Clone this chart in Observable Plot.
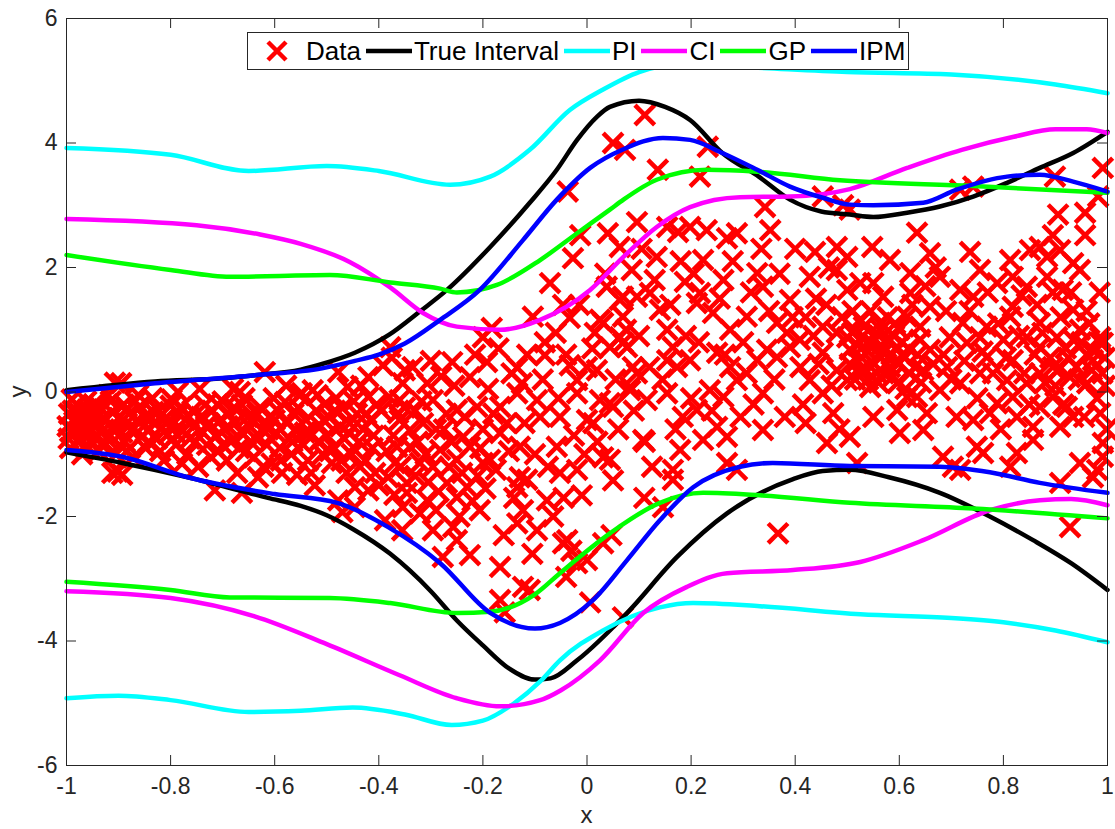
<!DOCTYPE html>
<html>
<head>
<meta charset="utf-8">
<script src="https://cdn.jsdelivr.net/npm/d3@7"></script>
<script src="https://cdn.jsdelivr.net/npm/@observablehq/plot@0.6"></script>
<style>
  html, body { margin: 0; padding: 0; background: #fff; }
  #chart { position: relative; width: 1115px; height: 829px; font-family: "Liberation Sans", Arial, Helvetica, sans-serif; }
  #legend {
    position: absolute; left: 247px; top: 32px; height: 38px;
    box-sizing: border-box; border: 1px solid #262626; background: #fff;
    display: flex; align-items: center; padding: 0 3px 0 6px;
    font-size: 26px; color: #000; white-space: nowrap;
  }
  #legend .item { display: flex; align-items: center; margin-right: 5px; }
  #legend .item:last-child { margin-right: 0; }
  #legend svg { display: block; margin-right: 2px; }
</style>
</head>
<body>
<div id="chart"></div>
<script>
// Axis ticks
const xTicks = [-1, -0.8, -0.6, -0.4, -0.2, 0, 0.2, 0.4, 0.6, 0.8, 1];
const yTicks = [-6, -4, -2, 0, 2, 4, 6];

// Observed samples [x, y]
const dataPoints = [
  // x in [-1, -0.9]
  [-0.995,-0.35],[-0.99,-0.62],[-0.985,-0.48],[-0.98,-0.2],[-0.978,-0.8],[-0.972,-0.55],[-0.968,-0.42],[-0.965,-0.7],
  [-0.96,-0.28],[-0.957,-0.9],[-0.952,-0.5],[-0.95,-0.62],[-0.996,-0.75],[-0.99,-0.12],[-0.975,-0.35],[-0.962,-0.15],
  [-0.946,-0.38],[-0.943,-0.72],[-0.94,-0.5],[-0.935,-0.25],[-0.932,-0.85],[-0.928,-0.6],[-0.925,-0.45],[-0.92,-0.05],
  [-0.917,-0.7],[-0.913,-0.32],[-0.91,-0.55],[-0.907,0.15],[-0.905,-1.0],[-0.902,-1.28],[-0.9,-0.42],[-0.895,0.14],
  [-0.893,-0.65],[-0.89,-0.2],[-0.912,-1.3],[-0.893,-1.33],
  [-0.998,-0.55],[-0.993,-0.9],[-0.988,-0.3],[-0.982,-0.65],[-0.976,-0.45],[-0.97,-1.0],[-0.966,-0.6],[-0.958,-0.38],
  [-0.954,-0.78],[-0.948,-0.2],[-0.938,-0.95],[-0.93,-0.42],[-0.922,-0.75],[-0.915,-0.15],[-0.908,-0.62],
  // x in [-0.9, -0.8]
  [-0.888,-0.8],[-0.884,-0.5],[-0.88,-0.35],[-0.876,-0.62],[-0.872,-1.05],[-0.868,-0.15],[-0.864,-0.45],[-0.86,-0.25],
  [-0.856,-0.72],[-0.852,-0.55],[-0.848,-0.9],[-0.844,-0.38],[-0.84,-0.6],[-0.835,-0.1],[-0.83,-0.48],[-0.826,-0.75],
  [-0.822,-0.3],[-0.818,-0.58],[-0.813,-1.1],[-0.81,-0.42],[-0.805,-0.68],[-0.8,-0.22],[-0.86,-0.24],
  [-0.898,-0.85],[-0.885,-0.28],[-0.878,-0.9],[-0.87,-0.58],[-0.862,-0.05],[-0.85,-0.4],[-0.842,-0.8],[-0.833,-0.32],
  [-0.82,-0.95],[-0.808,-0.5],
  // x in [-0.8, -0.7]
  [-0.796,-0.52],[-0.79,-0.85],[-0.786,0.0],[-0.783,-0.35],[-0.78,-0.24],[-0.776,-0.62],[-0.772,-0.45],[-0.768,-1.0],
  [-0.763,-0.75],[-0.758,-0.3],[-0.755,-0.55],[-0.747,-1.2],[-0.742,-0.4],[-0.738,-0.65],[-0.734,-0.21],[-0.73,-0.85],
  [-0.726,-0.5],[-0.72,-0.3],[-0.715,-1.58],[-0.712,-0.7],[-0.708,-0.95],[-0.704,-0.45],[-0.7,-0.15],
  [-0.798,-0.12],[-0.788,-0.68],[-0.778,-1.15],[-0.765,-0.4],[-0.752,-0.8],[-0.744,0.05],[-0.732,-0.55],[-0.722,-1.05],
  [-0.71,-0.2],
  // x in [-0.7, -0.6]
  [-0.696,-0.6],[-0.692,-1.1],[-0.688,-0.35],[-0.684,-0.8],[-0.68,0.05],[-0.676,-0.5],[-0.672,-1.3],[-0.667,0.0],
  [-0.663,-0.21],[-0.663,-1.62],[-0.66,-0.68],[-0.655,-0.95],[-0.652,-0.4],[-0.648,-0.55],[-0.644,-0.45],[-0.64,-1.05],
  [-0.636,-0.75],[-0.632,-1.37],[-0.628,-0.25],[-0.624,-0.6],[-0.619,0.32],[-0.615,-0.85],[-0.61,-0.4],[-0.606,-1.15],
  [-0.602,-0.1],[-0.7,-0.85],[-0.69,-0.55],[-0.678,-0.25],[-0.668,-0.9],[-0.658,-0.1],[-0.646,-0.8],[-0.634,-0.35],
  [-0.622,-1.2],[-0.612,-0.6],
  // x in [-0.6, -0.5]
  [-0.598,-0.65],[-0.594,-0.3],[-0.59,-0.9],[-0.586,-1.3],[-0.58,-0.16],[-0.576,-0.5],[-0.572,-0.75],[-0.568,-1.0],
  [-0.564,-0.35],[-0.56,-0.6],[-0.557,-1.33],[-0.553,-0.05],[-0.548,-0.02],[-0.545,-0.85],[-0.54,-0.45],[-0.536,-1.1],
  [-0.532,-0.65],[-0.527,0.03],[-0.523,-1.5],[-0.52,-0.3],[-0.516,-0.8],[-0.512,-0.55],[-0.508,-1.0],[-0.504,-0.2],
  [-0.6,-0.45],[-0.588,-1.1],[-0.578,0.1],[-0.566,-0.8],[-0.555,-0.25],[-0.542,-0.65],[-0.53,-1.3],[-0.518,-0.05],
  [-0.506,-0.45],
  // x in [-0.5, -0.4]
  [-0.5,-0.7],[-0.496,-0.4],[-0.49,-1.14],[-0.486,-0.9],[-0.482,-0.1],[-0.478,0.32],[-0.478,-1.74],[-0.474,-0.55],
  [-0.47,-0.26],[-0.47,-1.93],[-0.466,-0.75],[-0.462,-1.3],[-0.46,0.08],[-0.456,-0.5],[-0.452,-1.0],[-0.446,-1.53],
  [-0.446,-1.85],[-0.442,-0.35],[-0.438,-0.8],[-0.434,0.1],[-0.43,-0.6],[-0.426,-1.1],[-0.42,0.24],[-0.42,-0.08],
  [-0.42,-1.58],[-0.416,-0.45],[-0.412,-0.9],[-0.407,-1.3],[-0.404,-0.2],
  [-0.494,-0.95],[-0.484,-0.3],[-0.472,-1.1],[-0.458,-0.65],[-0.448,-0.15],[-0.436,-1.2],[-0.424,-0.35],[-0.41,-0.7],
  // x in [-0.4, -0.3]
  [-0.392,0.43],[-0.388,-2.06],[-0.382,-1.37],[-0.38,-0.08],[-0.378,0.72],[-0.375,0.55],[-0.372,-0.7],[-0.369,-1.14],
  [-0.365,-0.88],[-0.363,-0.34],[-0.36,-0.13],[-0.36,-0.45],[-0.355,-2.22],[-0.354,0.14],[-0.354,-1.85],[-0.346,-1.46],
  [-0.346,-1.62],[-0.34,-0.61],[-0.34,-0.88],[-0.35,0.35],[-0.33,-0.3],[-0.33,-1.35],[-0.321,-1.14],[-0.321,-1.95],
  [-0.315,-0.5],[-0.31,-1.0],[-0.307,0.14],[-0.307,-1.74],
  [-0.4,-1.5],[-0.395,-0.3],[-0.385,-0.95],[-0.37,-1.65],[-0.358,-1.2],[-0.35,-0.25],[-0.335,0.4],[-0.325,-0.8],
  [-0.318,-0.15],[-0.305,-1.45],
  // x in [-0.3, -0.2]
  [-0.296,-0.13],[-0.296,-1.2],[-0.296,-2.22],[-0.29,-0.6],[-0.285,-1.6],[-0.282,-0.93],[-0.277,-2.65],[-0.27,-0.35],
  [-0.269,-1.46],[-0.26,-0.8],[-0.259,0.48],[-0.257,-2.17],[-0.25,-0.29],[-0.25,-1.09],[-0.25,-1.69],[-0.25,-2.38],
  [-0.24,-1.3],[-0.238,-0.72],[-0.23,-1.53],[-0.225,0.24],[-0.225,-0.88],[-0.225,-2.62],[-0.211,-0.24],[-0.21,-1.35],
  [-0.206,-1.9],[-0.2,0.88],[-0.2,-1.14],[-0.2,-0.6],
  [-0.3,0.5],[-0.29,-1.9],[-0.28,0.25],[-0.275,-0.6],[-0.265,-1.2],[-0.255,0.1],[-0.245,-2.0],[-0.235,-0.4],
  [-0.22,-1.75],[-0.215,0.6],[-0.205,-0.9],
  // x in [-0.2, -0.1]
  [-0.192,0.48],[-0.186,-1.09],[-0.183,1.03],[-0.18,-0.35],[-0.167,-0.24],[-0.167,-0.66],[-0.167,-2.81],[-0.167,-3.34],
  [-0.158,-3.54],[-0.154,-0.5],[-0.134,0.39],[-0.134,-0.02],[-0.134,-1.53],[-0.134,-2.11],[-0.129,-0.88],[-0.129,-1.37],
  [-0.125,0.14],[-0.123,-1.9],[-0.123,-3.13],[-0.115,-1.41],[-0.11,-3.18],[-0.104,1.21],
  [-0.195,-1.55],[-0.19,0.05],[-0.175,-1.25],[-0.17,0.7],[-0.16,-2.3],[-0.15,-0.95],[-0.145,0.3],[-0.14,-1.7],
  [-0.12,-0.5],[-0.115,0.6],[-0.105,-2.6],
  // x in [-0.1, 0]
  [-0.096,-0.13],[-0.096,-2.22],[-0.09,-0.4],[-0.081,0.8],[-0.081,0.59],[-0.077,-1.74],[-0.071,1.75],[-0.058,-0.88],
  [-0.052,-0.4],[-0.052,-1.3],[-0.046,1.4],[-0.046,-2.43],[-0.04,-2.97],[-0.038,-2.38],[-0.037,3.22],[-0.033,1.19],
  [-0.033,0.43],[-0.03,-2.55],[-0.027,2.15],[-0.019,0.19],[-0.019,-0.02],[-0.019,-1.25],[-0.019,-2.75],[-0.013,2.52],
  [-0.01,-1.66],[-0.1,-1.0],[-0.085,0.2],[-0.075,-1.2],[-0.065,-2.0],[-0.06,0.95],[-0.055,-0.1],[-0.045,-1.7],
  [-0.04,0.6],[-0.025,-0.7],[-0.015,1.4],[-0.005,-1.0],
  // x in [0, 0.1]
  [0.0,0.4],[0.0,-0.45],[0.0,-2.7],[0.006,-3.38],[0.012,-0.5],[0.015,0.95],[0.019,0.35],[0.025,1.16],[0.025,-0.13],
  [0.031,1.11],[0.031,-1.05],[0.031,-2.43],[0.038,1.69],[0.04,2.55],[0.044,-0.18],[0.044,-1.09],[0.044,0.72],
  [0.047,-2.3],[0.05,4.0],[0.05,-0.24],[0.05,-1.42],[0.063,1.48],[0.063,0.88],[0.063,2.33],[0.069,1.21],[0.069,1.53],
  [0.069,0.79],[0.069,-3.62],[0.073,3.89],[0.077,0.72],[0.083,0.03],[0.083,0.08],[0.086,1.96],[0.088,0.4],
  [0.096,1.53],[0.096,0.3],[0.096,2.73],
  [0.01,0.7],[0.02,-0.8],[0.035,1.9],[0.055,0.2],[0.06,-0.6],[0.075,1.0],[0.09,-0.3],[0.1,0.9],
  // x in [0.1, 0.2]
  [0.108,-0.77],[0.11,-1.7],[0.111,4.45],[0.111,-0.8],[0.115,-0.13],[0.121,1.59],[0.134,2.17],[0.136,3.57],
  [0.14,1.32],[0.146,-1.85],[0.154,1.0],[0.154,0.51],[0.154,-0.02],[0.154,2.65],[0.165,0.72],[0.165,-1.25],
  [0.165,-1.41],[0.173,0.4],[0.175,2.57],[0.179,-0.93],[0.184,-0.4],[0.188,1.77],[0.198,2.65],[0.198,0.51],
  [0.105,2.3],[0.12,0.4],[0.125,-1.2],[0.13,1.8],[0.145,0.2],[0.16,1.4],[0.17,-0.6],[0.18,2.1],[0.19,0.9],
  // x in [0.2, 0.3]
  [0.211,1.43],[0.211,-0.29],[0.217,3.46],[0.217,1.59],[0.223,2.12],[0.223,-0.77],[0.232,3.94],[0.236,0.03],
  [0.242,1.27],[0.25,0.63],[0.25,-0.56],[0.262,1.8],[0.262,-0.08],[0.269,2.47],[0.269,-0.72],[0.269,-1.14],
  [0.275,1.0],[0.275,0.4],[0.288,2.55],[0.288,0.19],[0.288,-1.25],
  [0.2,-0.1],[0.205,1.9],[0.215,0.8],[0.23,2.6],[0.24,-0.3],[0.255,1.5],[0.265,0.6],[0.28,2.1],[0.295,-0.4],
  // x in [0.3, 0.4]
  [0.307,1.21],[0.307,0.3],[0.327,1.91],[0.327,0.51],[0.338,1.69],[0.338,-0.02],[0.338,-0.61],[0.342,2.97],
  [0.346,0.68],[0.352,2.6],[0.365,1.11],[0.365,0.56],[0.367,-2.27],[0.384,0.95],[0.39,1.48],[0.39,0.72],
  [0.3,0.8],[0.315,1.6],[0.32,-0.2],[0.335,2.3],[0.35,1.3],[0.36,0.2],[0.37,1.9],[0.38,-0.4],[0.395,1.2],
  // x in [0.4, 0.5]
  [0.409,0.84],[0.41,0.4],[0.42,-0.5],[0.428,1.85],[0.428,0.19],[0.438,2.25],[0.44,1.5],[0.453,3.14],[0.453,1.05],
  [0.453,0.63],[0.453,-0.02],[0.461,-0.82],[0.473,-0.34],[0.48,2.33],[0.48,1.96],[0.48,0.95],[0.48,0.35],
  [0.492,3.0],[0.5,2.17],[0.5,1.64],[0.5,0.88],[0.5,0.19],
  [0.4,2.3],[0.415,-0.2],[0.42,1.2],[0.435,0.9],[0.445,0.45],[0.46,1.4],[0.465,2.0],[0.47,0.1],[0.485,-0.6],[0.49,1.2],
  // x in [0.5, 0.6]
  [0.505,2.93],[0.505,0.68],[0.505,-0.72],[0.51,1.3],[0.519,-1.14],[0.52,0.5],[0.525,1.75],[0.525,1.16],
  [0.525,0.35],[0.53,0.9],[0.538,0.79],[0.54,0.2],[0.544,0.08],[0.548,2.33],[0.548,0.79],[0.55,1.75],[0.55,-0.4],
  [0.557,0.3],[0.56,0.6],[0.563,1.11],[0.565,1.0],[0.569,1.53],[0.569,0.63],[0.575,0.45],[0.576,0.84],[0.582,2.12],
  [0.582,0.4],[0.59,0.9],[0.596,0.72],[0.596,0.14],[0.596,-0.29],
  [0.505,0.45],[0.51,0.95],[0.515,0.2],[0.52,0.75],[0.528,0.55],[0.532,1.05],[0.535,0.35],[0.54,0.65],[0.545,1.3],
  [0.552,0.45],[0.555,0.95],[0.56,0.15],[0.565,0.75],[0.57,0.3],[0.578,1.2],[0.585,0.6],[0.588,0.25],[0.592,1.1],
  [0.598,0.45],
  // x in [0.6, 0.7]
  [0.6,1.0],[0.601,-0.66],[0.61,0.55],[0.615,1.21],[0.615,-0.08],[0.62,0.3],[0.621,1.91],[0.621,1.59],[0.634,2.56],
  [0.634,-0.08],[0.635,0.6],[0.64,1.05],[0.64,0.84],[0.646,0.35],[0.646,-0.61],[0.653,-0.34],[0.659,2.23],
  [0.659,1.37],[0.659,0.68],[0.678,1.85],[0.678,0.03],[0.684,-1.04],[0.692,0.4],[0.697,0.88],
  [0.605,0.8],[0.612,0.05],[0.618,0.7],[0.625,1.4],[0.63,0.4],[0.642,0.15],[0.65,1.7],[0.665,0.45],[0.67,2.0],
  [0.685,0.6],[0.69,1.3],
  // x in [0.7, 0.8]
  [0.703,-1.2],[0.717,3.25],[0.717,1.64],[0.717,0.14],[0.717,-1.25],[0.722,1.11],[0.73,0.79],[0.736,2.25],
  [0.742,3.3],[0.742,1.53],[0.742,-0.45],[0.749,-0.88],[0.755,1.96],[0.755,0.88],[0.755,0.3],[0.761,-0.98],
  [0.768,1.05],[0.768,0.56],[0.774,-0.34],[0.788,1.75],[0.788,-0.18],
  [0.7,0.2],[0.71,-0.4],[0.725,0.5],[0.735,1.3],[0.75,-0.1],[0.76,0.65],[0.77,1.6],[0.78,0.3],[0.79,1.1],[0.795,-0.6],
  // x in [0.8, 0.9]
  [0.8,0.84],[0.807,0.19],[0.813,2.12],[0.813,1.21],[0.813,-1.2],[0.818,1.85],[0.818,1.37],[0.818,0.51],
  [0.818,-0.08],[0.826,-0.4],[0.826,-0.98],[0.845,1.69],[0.845,0.88],[0.845,0.14],[0.851,2.28],[0.857,-0.56],
  [0.857,-0.77],[0.87,2.33],[0.87,1.11],[0.87,0.72],[0.87,0.3],[0.87,-0.24],[0.884,2.17],[0.884,1.85],
  [0.895,2.52],[0.895,0.4],[0.895,-0.08],[0.899,3.46],[0.9,0.1],
  [0.805,0.55],[0.83,0.9],[0.835,1.55],[0.84,0.3],[0.85,-0.2],[0.86,0.6],[0.865,1.4],[0.875,0.95],[0.88,0.15],
  [0.89,0.55],[0.895,1.6],
  // x in [0.9, 1]
  [0.903,0.88],[0.905,2.85],[0.909,2.28],[0.909,-0.56],[0.909,-1.46],[0.914,1.64],[0.92,0.7],[0.922,-0.24],
  [0.928,0.24],[0.928,-2.17],[0.934,2.07],[0.934,1.32],[0.934,0.84],[0.934,-0.4],[0.94,0.4],[0.947,1.96],
  [0.947,1.0],[0.947,-1.14],[0.957,2.88],[0.957,2.52],[0.96,0.6],[0.96,1.3],[0.961,0.14],[0.972,0.51],
  [0.972,-1.37],[0.98,-0.1],[0.98,-1.25],[0.982,3.14],[0.986,0.88],[0.986,0.79],[0.986,-0.34],[0.99,0.3],
  [0.991,3.6],[0.991,0.79],[0.991,-0.82],[0.991,-1.04],
  [0.905,0.35],[0.91,1.2],[0.915,-0.2],[0.925,0.55],[0.93,1.6],[0.945,0.2],[0.95,0.8],[0.955,-0.4],[0.965,1.1],
  [0.97,0.35],[0.975,0.65],[0.985,1.6],[0.995,0.1],[0.995,0.55],[0.998,-0.6]
];

// Interval bounds [x, y]
const trueUpper = [[-1,0.03],[-0.83,0.17],[-0.7,0.22],[-0.638,0.27],[-0.55,0.36],[-0.509,0.45],[-0.446,0.63],[-0.38,0.92],[-0.32,1.3],[-0.269,1.64],[-0.186,2.33],[-0.11,3.04],[-0.058,3.57],[-0.019,4.05],[0.019,4.42],[0.044,4.58],[0.1,4.68],[0.15,4.58],[0.198,4.37],[0.26,3.84],[0.33,3.46],[0.39,3.09],[0.45,2.9],[0.505,2.85],[0.55,2.81],[0.615,2.88],[0.678,2.98],[0.742,3.14],[0.807,3.36],[0.87,3.6],[0.934,3.84],[1,4.18]];
const trueLower = [[-1,-0.97],[-0.893,-1.14],[-0.767,-1.37],[-0.613,-1.7],[-0.55,-1.83],[-0.5,-1.98],[-0.45,-2.2],[-0.378,-2.6],[-0.3,-3.2],[-0.25,-3.67],[-0.2,-4.07],[-0.15,-4.44],[-0.1,-4.62],[-0.07,-4.6],[-0.019,-4.31],[0.077,-3.55],[0.173,-2.65],[0.269,-1.95],[0.396,-1.4],[0.453,-1.27],[0.505,-1.25],[0.58,-1.37],[0.678,-1.62],[0.774,-2.0],[0.857,-2.38],[0.93,-2.75],[1,-3.18]];
const piUpper = [[-1,3.92],[-0.8,3.81],[-0.65,3.55],[-0.5,3.63],[-0.4,3.55],[-0.263,3.33],[-0.186,3.46],[-0.11,3.89],[-0.033,4.53],[0.031,4.86],[0.1,5.14],[0.18,5.26],[0.3,5.22],[0.5,5.14],[0.7,5.1],[0.9,4.94],[1,4.8]];
const piLower = [[-1,-4.92],[-0.9,-4.88],[-0.8,-4.95],[-0.65,-5.14],[-0.55,-5.12],[-0.45,-5.07],[-0.35,-5.18],[-0.26,-5.35],[-0.2,-5.28],[-0.14,-5.0],[-0.09,-4.65],[-0.052,-4.31],[0.031,-3.83],[0.14,-3.46],[0.204,-3.39],[0.332,-3.44],[0.525,-3.57],[0.7,-3.63],[0.8,-3.7],[0.9,-3.83],[1,-4.02]];
const ciUpper = [[-1,2.78],[-0.75,2.68],[-0.628,2.53],[-0.55,2.38],[-0.456,2.09],[-0.378,1.68],[-0.315,1.27],[-0.25,1.05],[-0.167,1.0],[-0.09,1.16],[0.006,1.64],[0.07,2.17],[0.134,2.65],[0.198,2.97],[0.294,3.13],[0.39,3.14],[0.505,3.26],[0.615,3.6],[0.72,3.89],[0.82,4.1],[0.9,4.22],[0.96,4.22],[1,4.16]];
const ciLower = [[-1,-3.2],[-0.8,-3.31],[-0.64,-3.6],[-0.5,-4.05],[-0.36,-4.55],[-0.25,-4.92],[-0.167,-5.05],[-0.09,-4.95],[-0.05,-4.79],[0.025,-4.31],[0.108,-3.55],[0.192,-3.13],[0.269,-2.91],[0.396,-2.86],[0.525,-2.73],[0.646,-2.38],[0.774,-1.9],[0.87,-1.74],[0.93,-1.72],[1,-1.82]];
const gpUpper = [[-1,2.2],[-0.8,1.96],[-0.686,1.85],[-0.494,1.88],[-0.378,1.76],[-0.282,1.66],[-0.25,1.6],[-0.173,1.72],[-0.09,2.12],[-0.019,2.55],[0.044,2.93],[0.07,3.09],[0.134,3.41],[0.23,3.57],[0.327,3.54],[0.486,3.4],[0.742,3.31],[1,3.2]];
const gpLower = [[-1,-3.05],[-0.8,-3.18],[-0.686,-3.3],[-0.494,-3.31],[-0.378,-3.39],[-0.25,-3.55],[-0.186,-3.53],[-0.1,-3.25],[-0.052,-2.91],[0.044,-2.27],[0.14,-1.78],[0.223,-1.62],[0.332,-1.66],[0.505,-1.78],[0.742,-1.87],[1,-2.03]];
const ipmUpper = [[-1,0.0],[-0.83,0.14],[-0.638,0.27],[-0.509,0.38],[-0.446,0.5],[-0.4,0.6],[-0.35,0.78],[-0.282,1.16],[-0.206,1.64],[-0.123,2.44],[-0.058,3.09],[0.006,3.6],[0.07,3.9],[0.146,4.08],[0.198,4.05],[0.26,3.84],[0.327,3.57],[0.39,3.3],[0.453,3.12],[0.505,3.01],[0.55,3.0],[0.646,3.04],[0.71,3.25],[0.807,3.46],[0.87,3.49],[0.934,3.38],[1,3.22]];
const ipmLower = [[-1,-0.93],[-0.893,-1.04],[-0.767,-1.37],[-0.6,-1.64],[-0.48,-1.78],[-0.382,-2.17],[-0.282,-2.75],[-0.186,-3.55],[-0.1,-3.8],[-0.052,-3.71],[0.012,-3.34],[0.077,-2.7],[0.14,-2.06],[0.204,-1.53],[0.294,-1.2],[0.357,-1.14],[0.505,-1.19],[0.678,-1.2],[0.774,-1.29],[0.87,-1.46],[1,-1.62]];

// Legend entries
const legendItems = [
  {label: "Data", color: "#ff0000", kind: "marker"},
  {label: "True Interval", color: "#000000", kind: "line"},
  {label: "PI", color: "#00ffff", kind: "line"},
  {label: "CI", color: "#ff00ff", kind: "line"},
  {label: "GP", color: "#00ff00", kind: "line"},
  {label: "IPM", color: "#0000ff", kind: "line"}
];

const W = 1115, H = 829;
const M = {top: 18, right: 8, bottom: 64, left: 66};
const axisColor = "#262626";
// inward tick length (pixels) expressed in data units
const tickPx = 10;
const tickDy = 12 * tickPx / (H - M.top - M.bottom);
const tickDx = 2 * tickPx / (W - M.left - M.right);

const lineOpts = (color) => ({x: d => d[0], y: d => d[1], stroke: color, strokeWidth: 4.5, curve: "monotone-x"});

const chart = Plot.plot({
  width: W, height: H,
  marginTop: M.top, marginRight: M.right, marginBottom: M.bottom, marginLeft: M.left,
  style: {fontFamily: '"Liberation Sans", Arial, Helvetica, sans-serif', fontSize: "23px", color: axisColor, background: "#fff", overflow: "visible"},
  x: {domain: [-1, 1]},
  y: {domain: [-6, 6]},
  marks: [
    Plot.dot(dataPoints, {x: d => d[0], y: d => d[1], symbol: "times", r: 9, stroke: "#ff0000", strokeWidth: 4.5}),
    Plot.line(trueUpper, lineOpts("#000000")),
    Plot.line(trueLower, lineOpts("#000000")),
    Plot.line(piUpper, lineOpts("#00ffff")),
    Plot.line(piLower, lineOpts("#00ffff")),
    Plot.line(ciUpper, lineOpts("#ff00ff")),
    Plot.line(ciLower, lineOpts("#ff00ff")),
    Plot.line(gpUpper, lineOpts("#00ff00")),
    Plot.line(gpLower, lineOpts("#00ff00")),
    Plot.line(ipmUpper, lineOpts("#0000ff")),
    Plot.line(ipmLower, lineOpts("#0000ff")),
    // inward tick marks on all four sides
    Plot.ruleX(xTicks, {x: d => d, y1: -6, y2: -6 + tickDy, stroke: axisColor, strokeWidth: 1}),
    Plot.ruleX(xTicks, {x: d => d, y1: 6, y2: 6 - tickDy, stroke: axisColor, strokeWidth: 1}),
    Plot.ruleY(yTicks, {y: d => d, x1: -1, x2: -1 + tickDx, stroke: axisColor, strokeWidth: 1}),
    Plot.ruleY(yTicks, {y: d => d, x1: 1, x2: 1 - tickDx, stroke: axisColor, strokeWidth: 1}),
    Plot.axisX(xTicks, {tickSize: 0, tickPadding: 12, tickFormat: d => String(d), fontSize: 23, fill: axisColor, label: null}),
    Plot.axisY(yTicks, {tickSize: 0, tickPadding: 9, tickFormat: d => String(d), fontSize: 23, fill: axisColor, label: null}),
    Plot.frame({stroke: axisColor, strokeWidth: 1})
  ]
});

// axis titles
const svg = d3.select(chart);
svg.append("text")
  .attr("x", M.left + (W - M.left - M.right) / 2)
  .attr("y", H - 6)
  .attr("text-anchor", "middle")
  .attr("font-size", 24)
  .attr("fill", axisColor)
  .text("x");
svg.append("text")
  .attr("transform", `translate(26,${M.top + (H - M.top - M.bottom) / 2}) rotate(-90)`)
  .attr("text-anchor", "middle")
  .attr("font-size", 24)
  .attr("fill", axisColor)
  .text("y");

const root = document.getElementById("chart");
root.appendChild(chart);

// legend box inside the axes
const legend = document.createElement("div");
legend.id = "legend";
for (const item of legendItems) {
  const el = document.createElement("div");
  el.className = "item";
  const isMarker = item.kind === "marker";
  const s = d3.create("svg").attr("width", isMarker ? 50 : 46).attr("height", 24);
  if (isMarker) {
    s.append("path").attr("d", "M14,3L32,21M14,21L32,3").attr("stroke", item.color).attr("stroke-width", 4.5).attr("fill", "none");
  } else {
    s.append("line").attr("x1", 0).attr("x2", 46).attr("y1", 12).attr("y2", 12).attr("stroke", item.color).attr("stroke-width", 4.5);
  }
  el.appendChild(s.node());
  const t = document.createElement("span");
  t.textContent = item.label;
  el.appendChild(t);
  legend.appendChild(el);
}
root.appendChild(legend);
</script>
</body>
</html>
